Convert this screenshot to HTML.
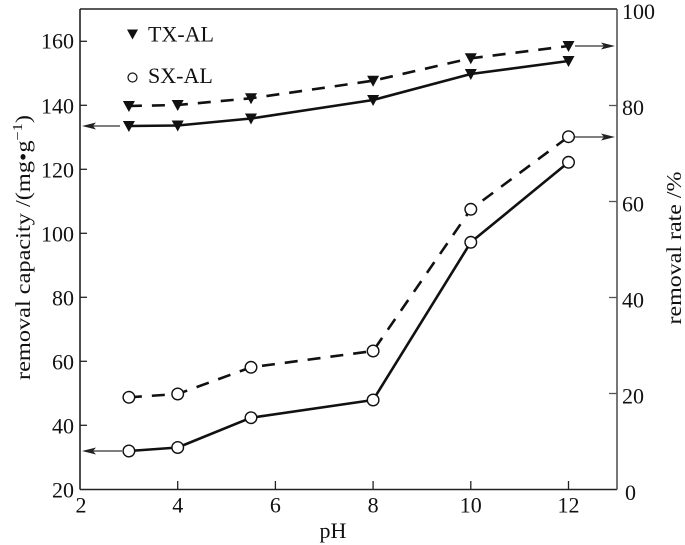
<!DOCTYPE html>
<html>
<head>
<meta charset="utf-8">
<style>
  html, body { margin: 0; padding: 0; background: #fff; }
  svg { display: block; font-family: "Liberation Serif", serif; }
  text { font-family: "Liberation Serif", serif; fill: #111; }
</style>
</head>
<body>
<svg width="685" height="545" viewBox="0 0 685 545" xmlns="http://www.w3.org/2000/svg" font-family="Liberation Serif, serif">
  <rect x="0" y="0" width="685" height="545" fill="#fff"/>

  <!-- frame -->
  <line x1="80" y1="9" x2="617" y2="9" stroke="#222" stroke-width="1.4"/>
  <line x1="80" y1="9" x2="80" y2="489.5" stroke="#222" stroke-width="1.6"/>
  <line x1="80" y1="489.5" x2="617" y2="489.5" stroke="#222" stroke-width="1.6"/>
  <line x1="617" y1="9" x2="617" y2="489.5" stroke="#555" stroke-width="1.6"/>

  <!-- left ticks -->
  <g stroke="#222" stroke-width="1.3">
    <line x1="80" y1="425.3" x2="87" y2="425.3"/>
    <line x1="80" y1="361.3" x2="87" y2="361.3"/>
    <line x1="80" y1="297.3" x2="87" y2="297.3"/>
    <line x1="80" y1="233.3" x2="87" y2="233.3"/>
    <line x1="80" y1="169.3" x2="87" y2="169.3"/>
    <line x1="80" y1="105.3" x2="87" y2="105.3"/>
    <line x1="80" y1="41.3" x2="87" y2="41.3"/>
  </g>
  <!-- bottom ticks -->
  <g stroke="#222" stroke-width="1.3">
    <line x1="177.7" y1="489.5" x2="177.7" y2="481"/>
    <line x1="275.4" y1="489.5" x2="275.4" y2="481"/>
    <line x1="373.1" y1="489.5" x2="373.1" y2="481"/>
    <line x1="470.8" y1="489.5" x2="470.8" y2="481"/>
    <line x1="568.5" y1="489.5" x2="568.5" y2="481"/>
  </g>
  <!-- right ticks -->
  <g stroke="#555" stroke-width="1.3">
    <line x1="617" y1="393.5" x2="609" y2="393.5"/>
    <line x1="617" y1="297.5" x2="609" y2="297.5"/>
    <line x1="617" y1="201.5" x2="609" y2="201.5"/>
    <line x1="617" y1="105.5" x2="609" y2="105.5"/>
  </g>

  <!-- left tick labels -->
  <g font-size="22" text-anchor="end">
    <text x="74" y="497.5">20</text>
    <text x="74" y="433.5">40</text>
    <text x="74" y="369.5">60</text>
    <text x="74" y="305.5">80</text>
    <text x="74" y="241.5">100</text>
    <text x="74" y="177.5">120</text>
    <text x="74" y="113.5">140</text>
    <text x="74" y="48.5">160</text>
  </g>
  <!-- right tick labels -->
  <g font-size="22" text-anchor="start">
    <text x="625" y="500">0</text>
    <text x="622" y="403.5">20</text>
    <text x="622" y="307.5">40</text>
    <text x="622" y="211.5">60</text>
    <text x="622" y="115">80</text>
    <text x="622" y="19">100</text>
  </g>
  <!-- bottom tick labels -->
  <g font-size="22" text-anchor="middle">
    <text x="81" y="512.5">2</text>
    <text x="177.7" y="512.5">4</text>
    <text x="275.4" y="512.5">6</text>
    <text x="373.1" y="512.5">8</text>
    <text x="470.8" y="512.5">10</text>
    <text x="568.5" y="512.5">12</text>
  </g>

  <!-- axis titles -->
  <text x="333" y="538" font-size="22" text-anchor="middle">pH</text>
  <text transform="translate(30,247.5) rotate(-90)" font-size="21" text-anchor="middle" textLength="265" lengthAdjust="spacingAndGlyphs">removal capacity /(mg•g<tspan font-size="14" dy="-8">−1</tspan><tspan dy="8">)</tspan></text>
  <text transform="translate(681,248) rotate(-90)" font-size="21" text-anchor="middle" textLength="153" lengthAdjust="spacingAndGlyphs">removal rate /%</text>

  <!-- series lines -->
  <g fill="none" stroke="#111" stroke-width="2.6" stroke-linejoin="round">
    <polyline points="128.9,126 177.7,125.5 251,118.5 373.1,100 470.8,74 568.5,61"/>
    <polyline points="128.9,451 177.7,447.5 251,417.7 373.1,400 470.8,242.3 568.5,162.3"/>
  </g>
  <g fill="none" stroke="#111" stroke-width="2.6" stroke-dasharray="13 10">
    <polyline points="128.9,106 177.7,105 251,98.3 373.1,80.7 470.8,58.3 568.5,46"/>
    <polyline points="128.9,397.3 177.7,394 251,367.3 373.1,351 470.8,209.3 568.5,136.7"/>
  </g>

  <!-- arrows -->
  <g stroke="#333" stroke-width="1.2" fill="#222">
    <line x1="120" y1="126" x2="86" y2="126"/>
    <polygon points="82,126 96,122.5 93,126 96,129.5" stroke="none"/>
    <line x1="122" y1="451" x2="86" y2="451"/>
    <polygon points="82,451 96,447.5 93,451 96,454.5" stroke="none"/>
    <line x1="575" y1="46" x2="610" y2="46"/>
    <polygon points="615,46 601,42.5 604,46 601,49.5" stroke="none"/>
    <line x1="575" y1="137" x2="610" y2="137"/>
    <polygon points="615,137 601,133.5 604,137 601,140.5" stroke="none"/>
  </g>

  <!-- TX markers (down triangles) -->
  <g fill="#111">
    <polygon points="122.9,121 134.9,121 128.9,132"/>
    <polygon points="171.7,120.5 183.7,120.5 177.7,131.5"/>
    <polygon points="245,113.5 257,113.5 251,124.5"/>
    <polygon points="367.1,95 379.1,95 373.1,106"/>
    <polygon points="464.8,69 476.8,69 470.8,80"/>
    <polygon points="562.5,56 574.5,56 568.5,67"/>

    <polygon points="122.9,101 134.9,101 128.9,112"/>
    <polygon points="171.7,100 183.7,100 177.7,111"/>
    <polygon points="245,93.3 257,93.3 251,104.3"/>
    <polygon points="367.1,75.7 379.1,75.7 373.1,86.7"/>
    <polygon points="464.8,53.3 476.8,53.3 470.8,64.3"/>
    <polygon points="562.5,41 574.5,41 568.5,52"/>
  </g>

  <!-- SX markers (open circles) -->
  <g fill="#fff" stroke="#111" stroke-width="1.4">
    <circle cx="128.9" cy="451" r="5.8"/>
    <circle cx="177.7" cy="447.5" r="5.8"/>
    <circle cx="251" cy="417.7" r="5.8"/>
    <circle cx="373.1" cy="400" r="5.8"/>
    <circle cx="470.8" cy="242.3" r="5.8"/>
    <circle cx="568.5" cy="162.3" r="5.8"/>

    <circle cx="128.9" cy="397.3" r="5.8"/>
    <circle cx="177.7" cy="394" r="5.8"/>
    <circle cx="251" cy="367.3" r="5.8"/>
    <circle cx="373.1" cy="351" r="5.8"/>
    <circle cx="470.8" cy="209.3" r="5.8"/>
    <circle cx="568.5" cy="136.7" r="5.8"/>
  </g>

  <!-- legend -->
  <polygon points="127,29.5 138,29.5 132.5,39.5" fill="#111"/>
  <text x="148" y="41.5" font-size="22">TX-AL</text>
  <circle cx="132.5" cy="77.5" r="4.5" fill="#fff" stroke="#111" stroke-width="1.2"/>
  <text x="148" y="83" font-size="22">SX-AL</text>
</svg>
</body>
</html>
